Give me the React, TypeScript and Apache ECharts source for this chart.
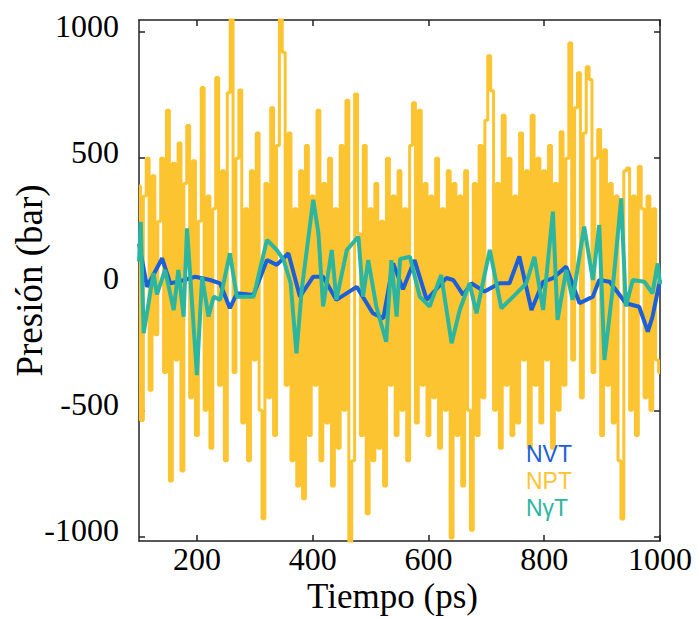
import React, { useEffect, useRef } from "react";
import * as echarts from "echarts";

// NPT: sampled every 5 ps starting at 100 ps
const nptStart = 100;
const nptStep = 5;
const nptValues = [
  390, -540, 350, 500, -420, 430, -200, 250, 500, -350,
  690, -780, 480, -300, 560, -740, 400, 630, -450, 490,
  -600, 250, 780, -500, 350, -650, 300, 820, -400, 450,
  -700, 760, 1100, -350, 500, 770, -550, 300, -700, 450,
  -300, 600, -500, -930, 400, -450, 700, -600, 550, 1100,
  920, -400, 600, -700, 300, -800, 450, -850, 550, -600,
  350, -400, 690, -700, 400, -550, 500, -800, 300, -650,
  550, -500, 730, -1100, -700, 755, 200, -600, 550, -910,
  300, -700, 400, -650, 250, -800, 500, -400, 350, -600,
  450, -500, 300, -700, 550, 720, -550, 690, -400, 400,
  -600, 350, -450, 500, -650, 300, -500, 450, -1006, 400,
  -600, 350, -800, 450, -500, -975, 400, -600, 550, -450,
  650, 906, 767, -500, 400, -650, 670, -400, 500, -600,
  350, -550, 600, -300, 450, -650, 670, -400, 500, -550,
  450, -300, 550, -650, 400, -500, 605, -400, 500, 957,
  -300, 700, 839, -450, 600, 863, 812, -350, 500, 614,
  -600, 533, -400, 400, -550, 350, -700, -931, 450, 461,
  -500, 350, -600, 467, 300, -450, 350, -500, 300, -300,
  -350,
];

const nvtTimes = [100, 114, 140, 154, 168, 197, 223, 240, 257, 269, 298, 321, 338, 358, 378, 401, 418, 441, 476, 504, 522, 539, 556, 576, 597, 631, 643, 660, 674, 697, 723, 740, 757, 778, 798, 815, 838, 861, 884, 895, 913, 941, 964, 979, 987, 1000];
const nvtValues = [160, -10, 103, 4, 10, 30, 17, 4, -95, -36, -42, 96, 77, 123, -49, 30, 30, -62, -10, -115, -135, 83, -20, 96, -62, 25, 17, -42, 4, -29, 4, 4, 110, -102, 10, 24, 70, -75, -49, 17, 10, -75, -89, -188, -129, 17];

const ngtTimes = [100, 103, 108, 125, 131, 145, 160, 168, 177, 183, 200, 209, 220, 229, 240, 257, 269, 283, 298, 321, 338, 350, 362, 372, 381, 401, 410, 418, 433, 441, 459, 479, 487, 496, 510, 527, 536, 545, 551, 568, 585, 602, 622, 640, 654, 671, 683, 706, 726, 752, 769, 783, 798, 815, 823, 838, 849, 869, 884, 895, 904, 918, 933, 941, 953, 973, 987, 996, 1000];
const ngtValues = [90, 248, -194, 44, -40, 57, -102, 57, -128, 222, -360, 30, -128, -49, -62, 123, -49, -49, -49, 176, 136, 96, 4, -274, -23, 335, 202, -88, 136, -62, 136, 189, -49, 96, -88, -228, 96, -128, 100, 109, -49, -88, 37, -234, -102, 4, -115, 136, -95, -36, 4, 109, -102, 288, -141, 57, -62, 229, 17, 235, -300, -23, 341, -88, 17, 10, -36, 83, 0];

const xTickValues = [200, 400, 600, 800, 1000];
const yTickValues = [-1000, -500, 0, 500, 1000];
const seriesNames = ["NVT", "NPT", "N\u03b3T"];
const seriesColors = ["#1b5fd9", "#fdc431", "#2cb6a0"];

const serif = "'Liberation Serif', 'DejaVu Serif', serif";
const sans = "'Liberation Sans', Arial, sans-serif";

export default function App() {
  const ref = useRef<HTMLDivElement>(null);
  useEffect(() => {
    if (!ref.current) return;
    const chart = echarts.init(ref.current, null, { renderer: "svg" });
    const axisLineStyle = { color: "#222", width: 1.5 };
    const nptData = nptValues.map((v, i) => [nptStart + i * nptStep, v]);
    const nvtData = nvtTimes.map((t, i) => [t, nvtValues[i]]);
    const ngtData = ngtTimes.map((t, i) => [t, ngtValues[i]]);
    chart.setOption({
      animation: false,
      backgroundColor: "#fff",
      grid: { left: 139, right: 38, top: 20, bottom: 77, outerBoundsMode: "none", containLabel: false },
      xAxis: [
        {
          type: "value",
          min: 100,
          max: 1000,
          position: "bottom",
          axisLine: { show: true, onZero: false, lineStyle: axisLineStyle },
          axisTick: { show: true, inside: true, length: 6, customValues: xTickValues, lineStyle: axisLineStyle },
          axisLabel: {
            customValues: xTickValues,
            formatter: (v: number) => String(v),
            fontFamily: serif,
            fontSize: 32,
            color: "#000",
            margin: 2,
          },
          splitLine: { show: false },
          name: "Tiempo (ps)",
          nameLocation: "middle",
          nameGap: 38,
          nameMoveOverlap: false,
          nameTextStyle: { fontFamily: serif, fontSize: 35, color: "#000", padding: [0, 14, 0, 0] },
        },
        {
          type: "value",
          min: 100,
          max: 1000,
          position: "top",
          axisLine: { show: true, onZero: false, lineStyle: axisLineStyle },
          axisTick: { show: true, inside: true, length: 6, customValues: xTickValues, lineStyle: axisLineStyle },
          axisLabel: { show: false },
          splitLine: { show: false },
        },
      ],
      yAxis: [
        {
          type: "value",
          min: -1018,
          max: 1048,
          position: "left",
          axisLine: { show: true, onZero: false, lineStyle: axisLineStyle },
          axisTick: { show: true, inside: true, length: 6, customValues: yTickValues, lineStyle: axisLineStyle },
          axisLabel: {
            customValues: yTickValues,
            formatter: (v: number) => `{v|${v}}`,
            rich: { v: { fontFamily: serif, fontSize: 32, color: "#000", padding: [0, 0, 12, 0] } },
            margin: 20,
          },
          splitLine: { show: false },
          name: "Presi\u00f3n (bar)",
          nameLocation: "middle",
          nameGap: 91,
          nameMoveOverlap: false,
          nameTextStyle: { fontFamily: serif, fontSize: 37, color: "#000" },
        },
        {
          type: "value",
          min: -1018,
          max: 1048,
          position: "right",
          axisLine: { show: true, onZero: false, lineStyle: axisLineStyle },
          axisTick: { show: true, inside: true, length: 6, customValues: yTickValues, lineStyle: axisLineStyle },
          axisLabel: { show: false },
          splitLine: { show: false },
        },
      ],
      series: [
        {
          name: seriesNames[1],
          type: "line",
          data: nptData,
          step: "middle",
          showSymbol: false,
          lineStyle: { color: seriesColors[1], width: 3 },
          itemStyle: { color: seriesColors[1] },
        },
        {
          name: seriesNames[0],
          type: "line",
          data: nvtData,
          showSymbol: false,
          lineStyle: { color: seriesColors[0], width: 4 },
          itemStyle: { color: seriesColors[0] },
        },
        {
          name: seriesNames[2],
          type: "line",
          data: ngtData,
          showSymbol: false,
          lineStyle: { color: seriesColors[2], width: 4 },
          itemStyle: { color: seriesColors[2] },
        },
      ],
      graphic: seriesNames.map((n, i) => ({
        type: "text",
        left: 526,
        top: 442 + i * 27,
        z: 100,
        style: { text: n, fill: seriesColors[i], fontFamily: sans, fontSize: 23, lineHeight: 23 },
      })),
    });
    return () => chart.dispose();
  }, []);
  return <div ref={ref} style={{ position: "fixed", left: 0, top: 0, width: 698, height: 618 }} />;
}
